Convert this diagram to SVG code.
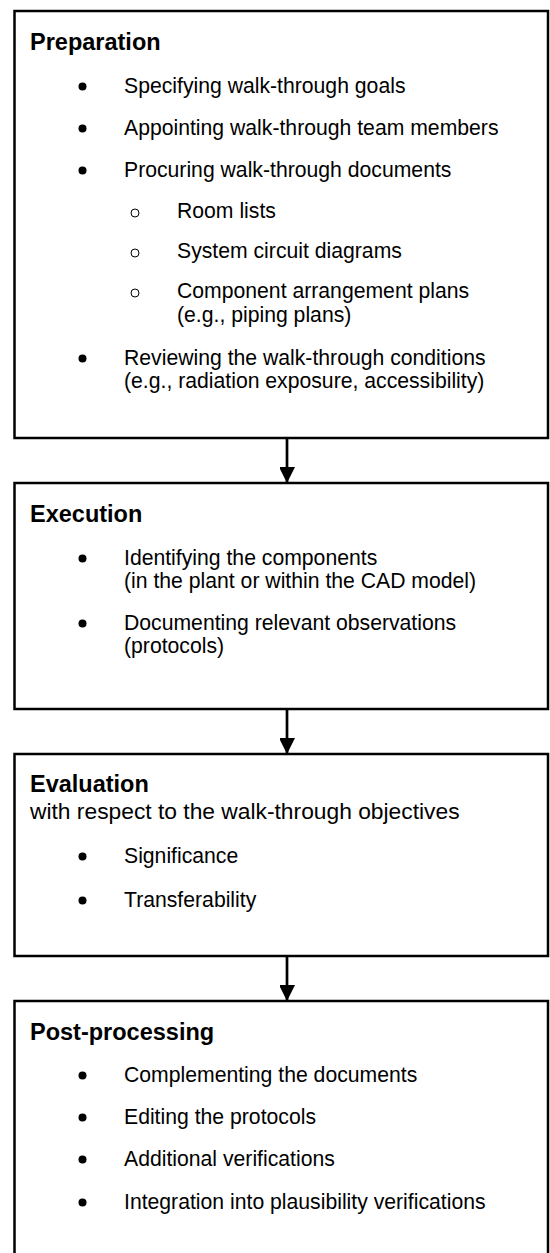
<svg xmlns="http://www.w3.org/2000/svg" width="550" height="1253" viewBox="0 0 550 1253">
<style>
.box{fill:#fff;stroke:#000;stroke-width:2.5}
.t{font-family:"Liberation Sans",Arial,sans-serif;font-size:23.5px;font-weight:bold;fill:#000}
.st{font-family:"Liberation Sans",Arial,sans-serif;font-size:22.8px;fill:#000}
.b{font-family:"Liberation Sans",Arial,sans-serif;font-size:21.2px;fill:#000}
.dot{fill:#000}
.ring{fill:none;stroke:#000;stroke-width:1}
.conn{stroke:#000;stroke-width:2.7;fill:none}
</style>
<defs>
<marker id="ah" markerUnits="userSpaceOnUse" markerWidth="16" markerHeight="15" refX="16" refY="8" orient="auto">
<path d="M0,0 L16,8 L0,16 Z" fill="#000"/>
</marker>
</defs>
<g id="connectors">
<path class="conn" d="M287,438 V483" marker-end="url(#ah)"/>
<path class="conn" d="M287,709 V754" marker-end="url(#ah)"/>
<path class="conn" d="M287,956 V1001" marker-end="url(#ah)"/>
</g>
<g id="preparation">
<rect class="box" x="14.5" y="11" width="533.5" height="427"/>
<text class="t" x="30" y="50">Preparation</text>
<circle class="dot" cx="82.5" cy="86.5" r="4"/>
<text class="b" x="124" y="93">Specifying walk-through goals</text>
<circle class="dot" cx="82.5" cy="128.5" r="4"/>
<text class="b" x="124" y="135">Appointing walk-through team members</text>
<circle class="dot" cx="82.5" cy="170.5" r="4"/>
<text class="b" x="124" y="177">Procuring walk-through documents</text>
<circle class="ring" cx="135" cy="213" r="4"/>
<text class="b" x="177" y="218">Room lists</text>
<circle class="ring" cx="135" cy="253" r="4"/>
<text class="b" x="177" y="258">System circuit diagrams</text>
<circle class="ring" cx="135" cy="293" r="4"/>
<text class="b" x="177" y="298">Component arrangement plans</text>
<text class="b" x="177" y="322">(e.g., piping plans)</text>
<circle class="dot" cx="82.5" cy="358.5" r="4"/>
<text class="b" x="124" y="365">Reviewing the walk-through conditions</text>
<text class="b" x="124" y="388">(e.g., radiation exposure, accessibility)</text>
</g>
<g id="execution">
<rect class="box" x="14.5" y="483" width="533.5" height="226"/>
<text class="t" x="30" y="522">Execution</text>
<circle class="dot" cx="82.5" cy="558.5" r="4"/>
<text class="b" x="124" y="565">Identifying the components</text>
<text class="b" x="124" y="588">(in the plant or within the CAD model)</text>
<circle class="dot" cx="82.5" cy="623.5" r="4"/>
<text class="b" x="124" y="630">Documenting relevant observations</text>
<text class="b" x="124" y="653">(protocols)</text>
</g>
<g id="evaluation">
<rect class="box" x="14.5" y="754" width="533.5" height="202"/>
<text class="t" x="30" y="792">Evaluation</text>
<text class="st" x="30" y="819">with respect to the walk-through objectives</text>
<circle class="dot" cx="82.5" cy="856.5" r="4"/>
<text class="b" x="124" y="863">Significance</text>
<circle class="dot" cx="82.5" cy="900.5" r="4"/>
<text class="b" x="124" y="907">Transferability</text>
</g>
<g id="post-processing">
<rect class="box" x="14.5" y="1001" width="533.5" height="262"/>
<text class="t" x="30" y="1040">Post-processing</text>
<circle class="dot" cx="82.5" cy="1075.5" r="4"/>
<text class="b" x="124" y="1082">Complementing the documents</text>
<circle class="dot" cx="82.5" cy="1117.5" r="4"/>
<text class="b" x="124" y="1124">Editing the protocols</text>
<circle class="dot" cx="82.5" cy="1159.5" r="4"/>
<text class="b" x="124" y="1166">Additional verifications</text>
<circle class="dot" cx="82.5" cy="1202.5" r="4"/>
<text class="b" x="124" y="1209">Integration into plausibility verifications</text>
</g>
</svg>
